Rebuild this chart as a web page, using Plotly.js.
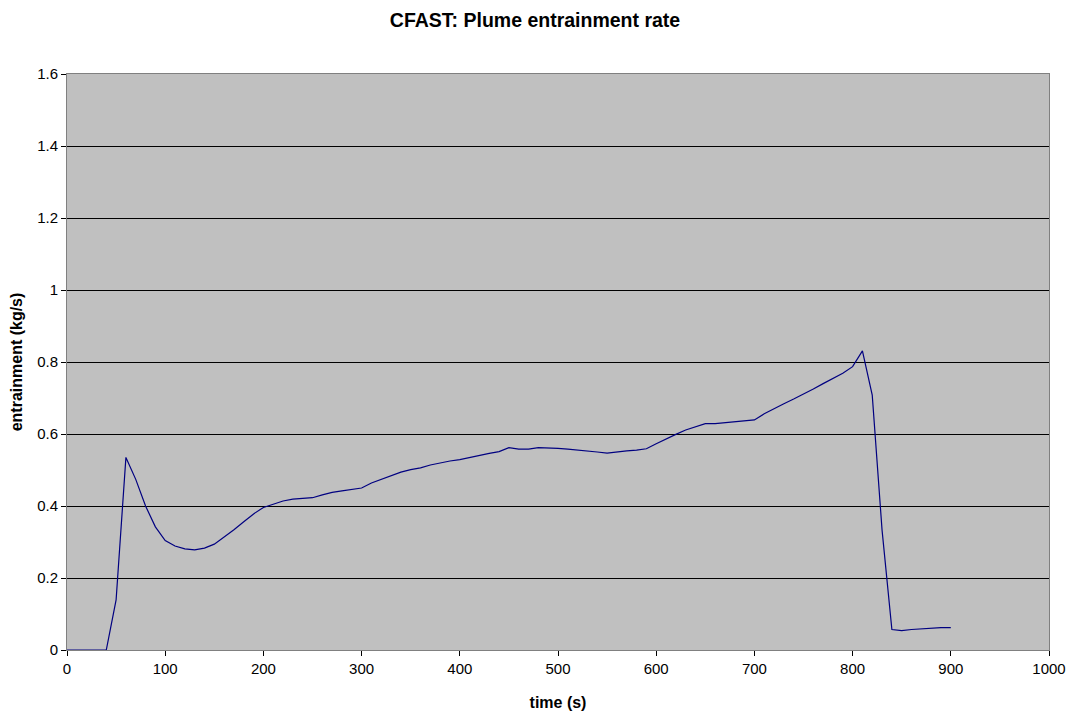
<!DOCTYPE html>
<html>
<head>
<meta charset="utf-8">
<script src="https://cdn.plot.ly/plotly-3.0.1.min.js"></script>
<style>html,body{margin:0;padding:0;background:#fff;}#chart{width:1070px;height:714px;}</style>
</head>
<body>
<div id="chart"></div>
<script>
const timeS = [0,10,20,30,40,50,60,70,80,90,100,110,120,130,140,150,160,170,180,190,200,210,220,230,240,250,260,270,280,290,300,310,320,330,340,350,360,370,380,390,400,410,420,430,440,450,460,470,480,490,500,510,520,530,540,550,560,570,580,590,600,610,620,630,640,650,660,670,680,690,700,710,720,730,740,750,760,770,780,790,800,810,820,830,840,850,860,870,880,890,900];
const entrainment = [0,0,0,0,0,0.139,0.535,0.474,0.400,0.342,0.304,0.289,0.281,0.278,0.283,0.294,0.313,0.334,0.356,0.378,0.396,0.405,0.414,0.419,0.421,0.423,0.431,0.438,0.442,0.445,0.450,0.464,0.474,0.483,0.494,0.501,0.506,0.514,0.520,0.525,0.529,0.535,0.542,0.546,0.551,0.562,0.558,0.558,0.562,0.562,0.560,0.558,0.556,0.553,0.550,0.547,0.551,0.553,0.555,0.559,0.573,0.587,0.599,0.611,0.621,0.629,0.629,0.631,0.635,0.637,0.639,0.656,0.671,0.684,0.697,0.710,0.725,0.740,0.754,0.769,0.787,0.831,0.708,0.333,0.057,0.054,0.057,0.059,0.061,0.062,0.062];
const xTicks = [0,100,200,300,400,500,600,700,800,900,1000];
const yTicks = [0,0.2,0.4,0.6,0.8,1,1.2,1.4,1.6];
const yTickText = ['0','0.2','0.4','0.6','0.8','1','1.2','1.4','1.6'];
const chartTitle = "CFAST: Plume entrainment rate";
const xTitle = "time (s)";
const yTitle = "entrainment (kg/s)";

const fontFam = "Liberation Sans, Arial, sans-serif";
Plotly.newPlot('chart', [{
  x: timeS, y: entrainment, type: 'scatter', mode: 'lines',
  line: {color: '#000080', width: 1.2}, hoverinfo: 'skip', showlegend: false
}], {
  width: 1070, height: 714,
  paper_bgcolor: '#ffffff', plot_bgcolor: '#c0c0c0',
  margin: {l: 67, r: 21, t: 74, b: 64},
  font: {family: fontFam, size: 15, color: '#000'},
  title: {text: '<b>' + chartTitle + '</b>', font: {family: fontFam, size: 19.5, color: '#000'}, x: 0.5, xanchor: 'center', yref: 'container', y: 1 - 20/714, yanchor: 'middle'},
  xaxis: {
    range: [0, 1000], tickvals: xTicks,
    ticks: 'outside', ticklen: 5, tickcolor: '#000', showgrid: false, zeroline: false,
    showline: true, linecolor: '#808080', linewidth: 1, mirror: true,
    title: {text: '<b>' + xTitle + '</b>', font: {family: fontFam, size: 16}, standoff: 20},
    tickfont: {family: fontFam, size: 15}
  },
  yaxis: {
    range: [0, 1.6], tickvals: yTicks, ticktext: yTickText,
    ticks: 'outside', ticklen: 5, tickcolor: '#000', showgrid: true, gridcolor: '#000', gridwidth: 1, zeroline: false,
    showline: true, linecolor: '#808080', linewidth: 1, mirror: true,
    title: {text: '<b>' + yTitle + '</b>', font: {family: fontFam, size: 16}, standoff: 10},
    tickfont: {family: fontFam, size: 15}
  }
}, {displayModeBar: false, staticPlot: true});
</script>
</body>
</html>
